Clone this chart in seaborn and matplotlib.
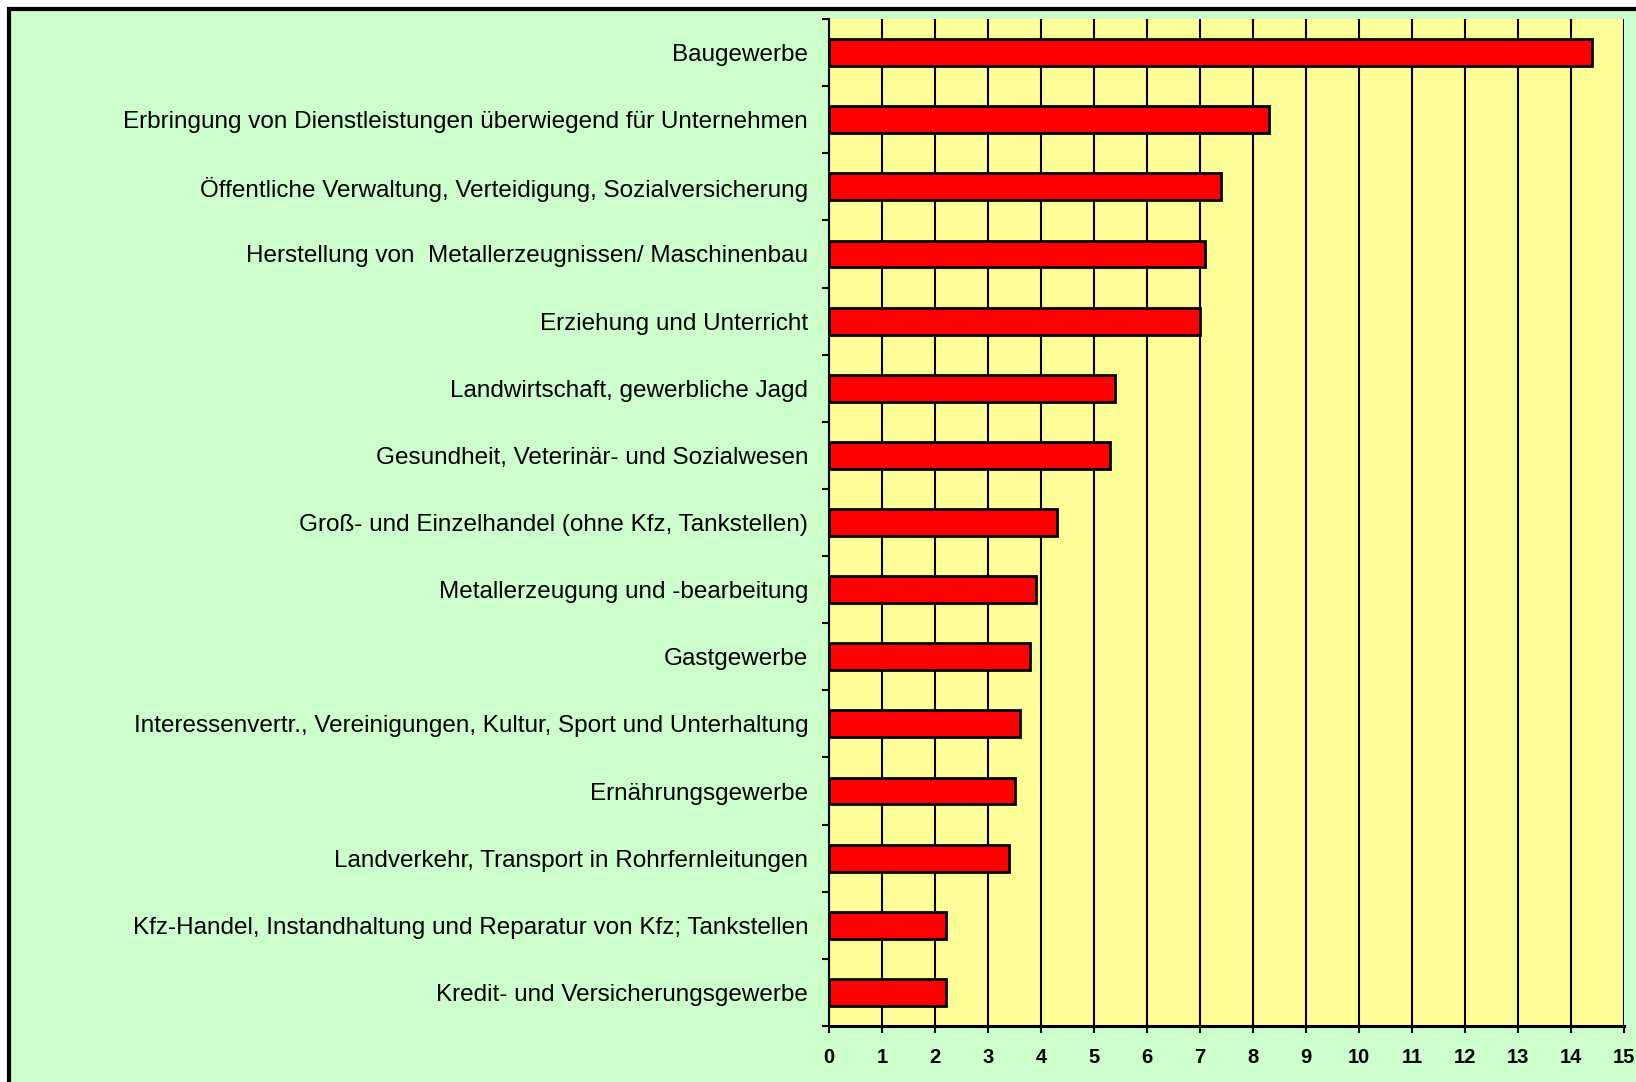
import numpy as np
import pandas as pd
import seaborn as sns
from matplotlib import pyplot as plt
from matplotlib.patches import Rectangle

categories = [
    "Baugewerbe",
    "Erbringung von Dienstleistungen überwiegend für Unternehmen",
    "Öffentliche Verwaltung, Verteidigung, Sozialversicherung",
    "Herstellung von  Metallerzeugnissen/ Maschinenbau",
    "Erziehung und Unterricht",
    "Landwirtschaft, gewerbliche Jagd",
    "Gesundheit, Veterinär- und Sozialwesen",
    "Groß- und Einzelhandel (ohne Kfz, Tankstellen)",
    "Metallerzeugung und -bearbeitung",
    "Gastgewerbe",
    "Interessenvertr., Vereinigungen, Kultur, Sport und Unterhaltung",
    "Ernährungsgewerbe",
    "Landverkehr, Transport in Rohrfernleitungen",
    "Kfz-Handel, Instandhaltung und Reparatur von Kfz; Tankstellen",
    "Kredit- und Versicherungsgewerbe",
]
values = [14.4, 8.3, 7.4, 7.1, 7.0, 5.4, 5.3, 4.3, 3.9, 3.8, 3.6, 3.5, 3.4, 2.2, 2.2]
x_ticks = list(range(0, 16))

df = pd.DataFrame({"Branche": categories, "Wert": values})

sns.set_style("white")
plt.rcParams['font.family'] = ['Liberation Sans', 'DejaVu Sans']
plt.rcParams['text.color'] = 'black'
plt.rcParams['xtick.color'] = 'black'
plt.rcParams['ytick.color'] = 'black'

fig = plt.figure(figsize=(16.36, 10.82), dpi=100)
fig.patch.set_facecolor('white')

# green background with black frame (cut at right/bottom like the original)
frame = Rectangle((9 / 1636, -0.05), 1.2, 1 - 9 / 1082 + 0.05, transform=fig.transFigure,
                  facecolor='#CCFFCC', edgecolor='black', linewidth=3, zorder=-10)
fig.patches.append(frame)

ax = fig.add_axes([829 / 1636, 1 - 1026 / 1082, (1624 - 829) / 1636, (1026 - 19) / 1082])
ax.set_facecolor('#FFFF99')

sns.barplot(data=df, x="Wert", y="Branche", orient='h', color='#FF0000',
            edgecolor='black', linewidth=2, width=0.4, saturation=1, ax=ax, zorder=3)

ax.set_xlim(0, 15)
ax.set_ylim(len(categories) - 0.5, -0.5)
ax.set_xlabel('')
ax.set_ylabel('')

# vertical gridlines
ax.set_xticks(x_ticks)
ax.xaxis.grid(True, color='black', linewidth=1.5, zorder=0)
ax.set_axisbelow(True)

# x tick labels
ax.set_xticklabels([str(t) for t in x_ticks], fontweight='bold', fontsize=14.5)
ax.tick_params(axis='x', direction='out', length=5, width=1.5, color='black',
               labelcolor='black', pad=11, bottom=True)

# y labels at category centers, ticks between categories
ax.set_yticks(np.arange(len(categories)))
ax.set_yticklabels(categories, fontsize=17.5)
ax.set_yticks(np.arange(len(categories) + 1) - 0.5, minor=True)
ax.tick_params(axis='y', which='major', length=0, pad=15, labelcolor='black')
ax.tick_params(axis='y', which='minor', direction='out', length=5, width=1.5,
               color='black', left=True)

for side in ['top', 'right']:
    ax.spines[side].set_visible(False)
ax.spines['left'].set_color('black')
ax.spines['left'].set_linewidth(1.5)
ax.spines['bottom'].set_color('black')
ax.spines['bottom'].set_linewidth(2.2)

fig.savefig("out.png", dpi=100, facecolor=fig.get_facecolor())
